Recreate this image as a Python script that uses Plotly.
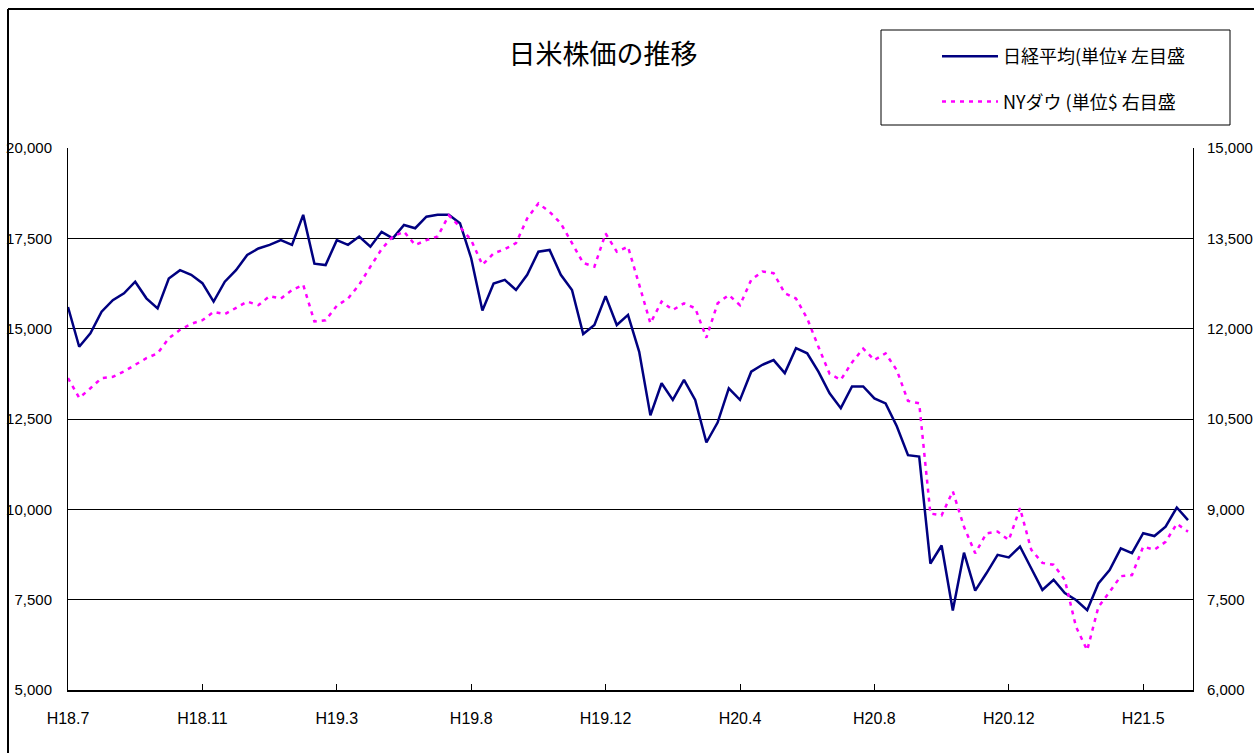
import plotly.graph_objects as go

tick_labels = ["H18.7", "H18.11", "H19.3", "H19.8", "H19.12", "H20.4", "H20.8", "H20.12", "H21.5"]
points_per_tick = 12

nikkei = [
    15600, 14500, 14870, 15470, 15790, 15980, 16300, 15840, 15560, 16390,
    16620, 16490, 16260, 15750, 16300, 16620, 17040, 17220, 17320, 17450,
    17320, 18150, 16800, 16760, 17450, 17320, 17550, 17270, 17680, 17500,
    17870, 17780, 18100, 18150, 18150, 17920, 16950, 15500, 16250, 16350,
    16070, 16490, 17130, 17180, 16490, 16070, 14850, 15100, 15900, 15100,
    15380, 14360, 12600, 13490, 13030, 13580, 13030, 11850, 12400, 13350,
    13030, 13810, 14000, 14130, 13770, 14460, 14320, 13810, 13210, 12800,
    13400, 13400, 13070, 12930, 12300, 11500, 11460, 8500, 9000, 7200,
    8800, 7750, 8230, 8740, 8670, 8970, 8370, 7770, 8050, 7680,
    7490, 7210, 7950, 8320, 8920, 8790, 9340, 9260, 9520, 10050,
    9700,
]

dow = [
    11180, 10850, 11010, 11180, 11200, 11290, 11400, 11510, 11590, 11840,
    11980, 12080, 12140, 12280, 12240, 12340, 12450, 12390, 12540, 12500,
    12640, 12730, 12120, 12140, 12380, 12500, 12730, 13030, 13320, 13530,
    13610, 13390, 13470, 13530, 13880, 13690, 13470, 13060, 13250, 13320,
    13420, 13830, 14080, 13940, 13750, 13420, 13090, 13030, 13580, 13280,
    13360, 12730, 12090, 12450, 12310, 12420, 12340, 11850, 12420, 12560,
    12390, 12810, 12950, 12920, 12590, 12500, 12170, 11700, 11250, 11150,
    11440, 11670, 11480, 11590, 11310, 10800, 10760, 8930, 8900, 9300,
    8710, 8270, 8600, 8630, 8490, 9020, 8330, 8110, 8080, 7830,
    7050, 6660, 7380, 7630, 7890, 7910, 8380, 8330, 8460, 8760,
    8630,
]

x_idx = list(range(len(nikkei)))
tickvals = [k * points_per_tick for k in range(len(tick_labels))]

W, H = 1254, 753
L, R, T, B = 68, 61, 148, 63
pw = W - L - R
ph = H - T - B

def px(xp):
    return (xp - L) / pw

def py(yp):
    return (H - B - yp) / ph

fig = go.Figure()
fig.add_trace(go.Scatter(
    x=x_idx, y=nikkei, mode="lines", name="日経平均(単位¥ 左目盛",
    line=dict(color="#000080", width=2.5), legendgroup="a", yaxis="y",
))
fig.add_trace(go.Scatter(
    x=list(range(len(dow))), y=dow, mode="lines", name="NYダウ (単位$ 右目盛",
    line=dict(color="#FF00FF", width=2.5, dash="4px,5px"), legendgroup="b", yaxis="y2",
))

base_font = "Liberation Sans, Arial, Noto Sans CJK JP, sans-serif"
cjk_font = "Noto Sans CJK JP, Liberation Sans, sans-serif"

fig.update_layout(
    width=W, height=H,
    margin=dict(l=L, r=R, t=T, b=B, pad=0, autoexpand=False),
    paper_bgcolor="white", plot_bgcolor="white",
    font=dict(family=base_font, size=15, color="black"),
    title=dict(text="日米株価の推移", font=dict(family=cjk_font, size=27, color="black"),
               xref="paper", x=px(603), xanchor="center",
               yref="container", y=1 - 55 / H, yanchor="middle"),
    xaxis=dict(range=[0, (1193 - L) / (134.4 / points_per_tick)],
               tickvals=tickvals, ticktext=tick_labels,
               ticks="inside", ticklen=6, tickcolor="black", tickwidth=1,
               showline=True, linecolor="black", linewidth=1.5,
               showgrid=False, zeroline=False, ticklabelstandoff=13,
               automargin=False, tickfont=dict(size=16)),
    yaxis=dict(range=[5000, 20000], dtick=2500, tick0=5000, tickformat=",",
               showgrid=True, gridcolor="black", gridwidth=1,
               showline=True, linecolor="black", linewidth=1,
               zeroline=False, ticks="", ticklabelstandoff=12,
               automargin=False, tickfont=dict(size=15)),
    yaxis2=dict(range=[6000, 15000], dtick=1500, tick0=6000, tickformat=",",
                overlaying="y", side="right", showgrid=False,
                showline=True, linecolor="black", linewidth=1,
                zeroline=False, ticks="", ticklabelstandoff=10,
                automargin=False, tickfont=dict(size=15)),
    showlegend=True,
    legend=dict(x=px(937), xanchor="left", y=py(38), yanchor="top",
                bgcolor="rgba(0,0,0,0)", borderwidth=0,
                font=dict(family=cjk_font, size=18, color="black"),
                itemwidth=56, tracegroupgap=19, traceorder="grouped"),
    shapes=[
        dict(type="rect", xref="paper", yref="paper",
             x0=px(881), x1=px(1230), y0=py(125), y1=py(30),
             line=dict(color="black", width=1)),
        dict(type="line", xref="paper", yref="paper",
             x0=px(8), x1=px(1254), y0=py(9), y1=py(9),
             line=dict(color="black", width=2)),
        dict(type="line", xref="paper", yref="paper",
             x0=px(8), x1=px(8), y0=py(9), y1=py(753),
             line=dict(color="black", width=2)),
    ],
)

fig.write_html("out.html")
